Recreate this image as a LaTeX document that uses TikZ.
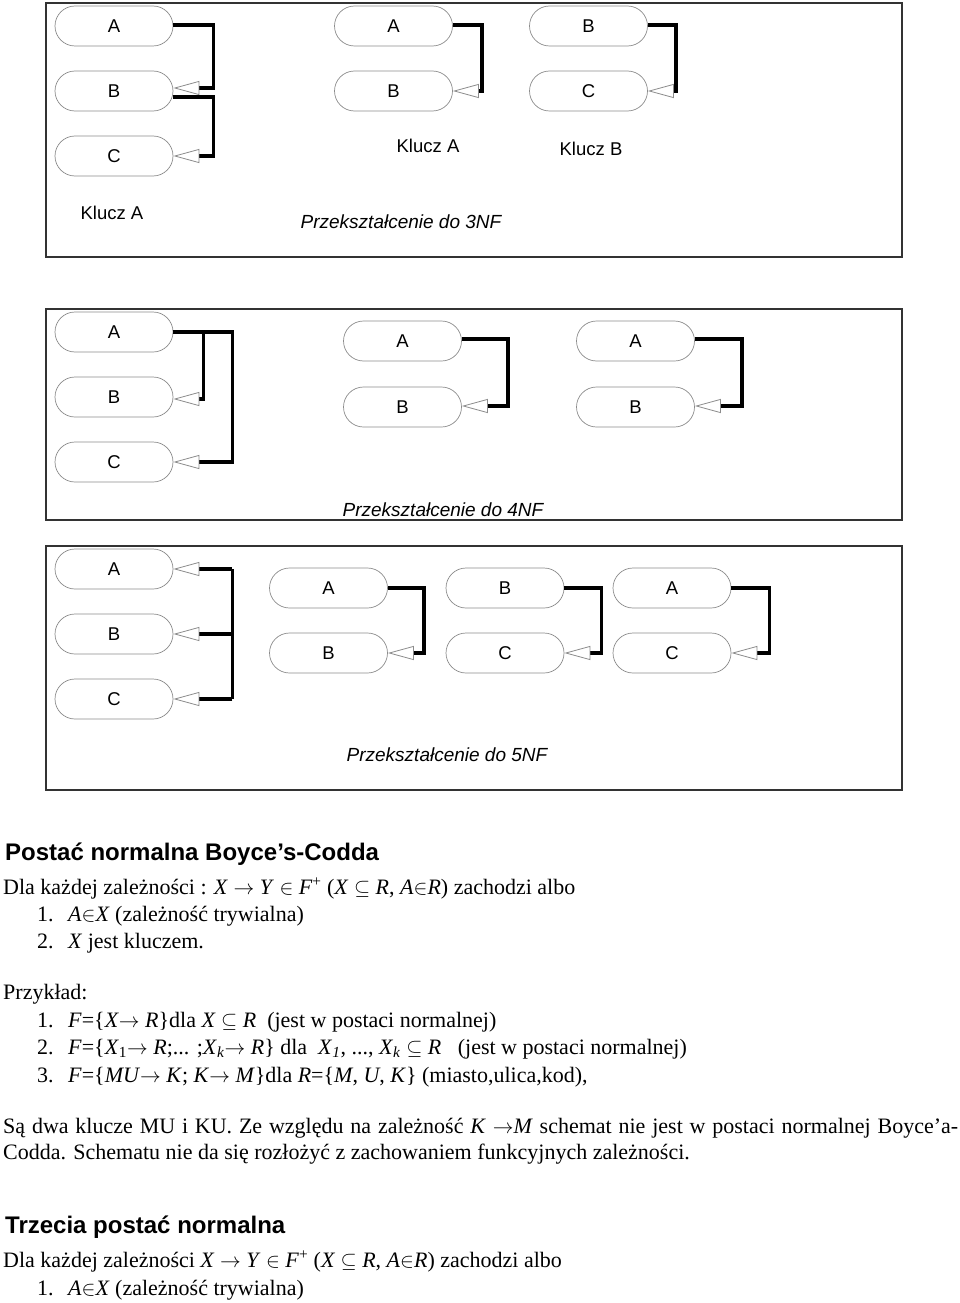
\documentclass[tikz,border=0pt]{standalone}
\usepackage{fontspec}
\setmainfont{Liberation Serif}
\newfontfamily\arial{Liberation Sans}
\usetikzlibrary{arrows.meta,shapes.misc}
\newcommand\vi[1]{\textit{#1}}
\tikzset{
  attr/.style={rounded rectangle, draw=black!45, line width=0.7pt, minimum width=118pt,
    minimum height=40pt, inner sep=0pt, font=\arial\fontsize{18.5}{20}\selectfont},
  conn/.style={line width=3.6pt, black, line join=miter,
    -{Triangle[length=26pt 0 0, width=14pt 0 0, line width=0.8pt 0 0, color=black!45, fill=white]}},
  bar/.style={line width=3.6pt, black, line join=miter},
  panel/.style={draw=black!80, line width=1.1pt},
  lbl/.style={inner sep=0pt, font=\arial\fontsize{18.5}{20}\selectfont},
  captxt/.style={inner sep=0pt, font=\arial\itshape\fontsize{19}{20}\selectfont},
  txt/.style={anchor=base west, inner sep=0pt, font=\fontsize{22}{26}\selectfont},
  head/.style={anchor=base west, inner sep=0pt, font=\arial\bfseries\fontsize{24}{28}\selectfont},
}
\begin{document}
\begin{tikzpicture}[x=1pt,y=-1pt]
\useasboundingbox[fill=white] (0,0) rectangle (960,1303);
% panels
\draw[panel] (46,3) rectangle (902,257);
\draw[panel] (46,309) rectangle (902,520);
\draw[panel] (46,546) rectangle (902,790);
% ---- panel 1
\node[attr] (a1) at (114,26) {A};
\node[attr] (b1) at (114,91) {B};
\node[attr] (c1) at (114,156) {C};
\draw[conn] ([yshift=1pt]a1.east) -- ++(40,0) |- ([yshift=3pt]b1.east);
\draw[conn] ([yshift=-6pt]b1.east) -- ++(40,0) |- (c1.east);
\node[attr] (a2) at (393.5,26) {A};
\node[attr] (b2) at (393.5,91) {B};
\draw[conn] ([yshift=1pt]a2.east) -- ++(29,0) |- (b2.east);
\node[attr] (b3) at (588.5,26) {B};
\node[attr] (c3) at (588.5,91) {C};
\draw[conn] ([yshift=1pt]b3.east) -- ++(28,0) |- (c3.east);
\node[lbl] (k1) at (112,213) {Klucz A};
\node[lbl] (k2) at (428,146) {Klucz A};
\node[lbl] (k3) at (591,149) {Klucz B};
\node[captxt] (p3) at (401,222) {Przekształcenie do 3NF};
% ---- panel 2
\node[attr] (a4) at (114,332) {A};
\node[attr] (b4) at (114,397) {B};
\node[attr] (c4) at (114,462) {C};
\draw[conn] (a4.east) -- ++(59,0) |- (c4.east);
\draw[conn] ([xshift=30pt]a4.east) |- ([yshift=-2pt]b4.east);
\node[attr] (a5) at (402.5,341) {A};
\node[attr] (b5) at (402.5,407) {B};
\draw[conn] ([yshift=2pt]a5.east) -- ++(46,0) |- ([yshift=1pt]b5.east);
\node[attr] (a6) at (635.5,341) {A};
\node[attr] (b6) at (635.5,407) {B};
\draw[conn] ([yshift=2pt]a6.east) -- ++(47,0) |- ([yshift=1pt]b6.east);
\node[captxt] (p4) at (443,510) {Przekształcenie do 4NF};
% ---- panel 3
\node[attr] (a7) at (114,569) {A};
\node[attr] (b7) at (114,634) {B};
\node[attr] (c7) at (114,699) {C};
\coordinate (j7a) at ([xshift=59pt]a7.east);
\coordinate (j7c) at ([xshift=59pt]c7.east);
\draw[bar] (j7a) -- (j7c);
\draw[conn] (j7a) -- (a7.east);
\draw[conn] ([xshift=59pt]b7.east) -- (b7.east);
\draw[conn] (j7c) -- (c7.east);
\node[attr] (a8) at (328.5,588) {A};
\node[attr] (b8) at (328.5,653) {B};
\draw[conn] (a8.east) -- ++(36,0) |- (b8.east);
\node[attr] (b9) at (505,588) {B};
\node[attr] (c9) at (505,653) {C};
\draw[conn] (b9.east) -- ++(37,0) |- (c9.east);
\node[attr] (a10) at (672,588) {A};
\node[attr] (c10) at (672,653) {C};
\draw[conn] (a10.east) -- ++(38,0) |- (c10.east);
\node[captxt] (p5) at (447,755) {Przekształcenie do 5NF};
% ---- text
\node[head] (h1) at (5,860) {Postać normalna Boyce’s-Codda};
\node[txt] (t1) at (3,894) {Dla każdej zależności : \vi{X} $\rightarrow$ \vi{Y} $\in$ \vi{F}\textsuperscript{+} (\vi{X} $\subseteq$ \vi{R}, \vi{A}$\in$\vi{R}) zachodzi albo};
\node[txt] (n1) at (37,921) {1.};
\node[txt] (t2) at (68,921) {\vi{A}$\in$\vi{X} (zależność trywialna)};
\node[txt] (n2) at (37,948) {2.};
\node[txt] (t3) at (68,948) {\vi{X} jest kluczem.};
\node[txt] (t4) at (3,999) {Przykład:};
\node[txt] (n3) at (37,1027) {1.};
\node[txt] (t5) at (68,1027) {\vi{F}=\{\vi{X}$\rightarrow$ \vi{R}\}dla \vi{X} $\subseteq$ \vi{R}\ \ (jest w postaci normalnej)};
\node[txt] (n4) at (37,1054) {2.};
\node[txt] (t6) at (68,1054) {\vi{F}=\{\vi{X}\textsubscript{1}$\rightarrow$ \vi{R};... ;\vi{X}\textsubscript{\vi{k}}$\rightarrow$ \vi{R}\} dla\ \ \vi{X}\textsubscript{\vi{1}}, ..., \vi{X}\textsubscript{\vi{k}} $\subseteq$ \vi{R}\ \ \ (jest w postaci normalnej)};
\node[txt] (n5) at (37,1082) {3.};
\node[txt] (t7) at (68,1082) {\vi{F}=\{\vi{MU}$\rightarrow$ \vi{K}; \vi{K}$\rightarrow$ \vi{M}\}dla \vi{R}=\{\vi{M}, \vi{U}, \vi{K}\} (miasto,ulica,kod),};
\node[txt] (t8) at (3,1133) {\makebox[955pt][s]{Są dwa klucze MU i KU. Ze względu na zależność \vi{K} $\rightarrow$\vi{M} schemat nie jest w postaci normalnej Boyce’a-}};
\node[txt] (t9) at (3,1159) {Codda. Schematu nie da się rozłożyć z zachowaniem funkcyjnych zależności.};
\node[head] (h2) at (5,1233) {Trzecia postać normalna};
\node[txt] (t10) at (3,1267) {Dla każdej zależności \vi{X} $\rightarrow$ \vi{Y} $\in$ \vi{F}\textsuperscript{+} (\vi{X} $\subseteq$ \vi{R}, \vi{A}$\in$\vi{R}) zachodzi albo};
\node[txt] (n6) at (37,1295) {1.};
\node[txt] (t11) at (68,1295) {\vi{A}$\in$\vi{X} (zależność trywialna)};
\end{tikzpicture}
\end{document}
